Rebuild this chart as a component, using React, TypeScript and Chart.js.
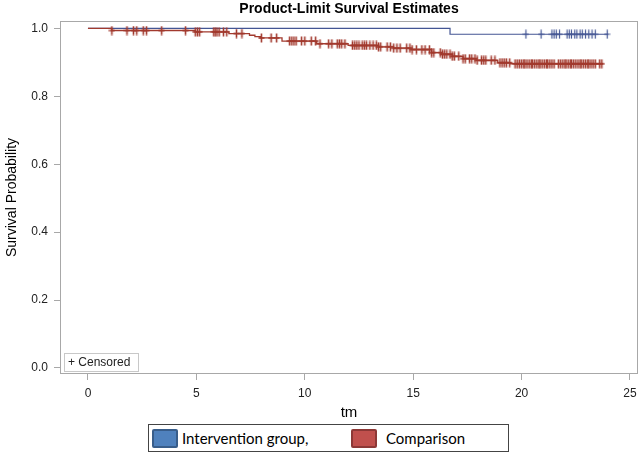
import React, { useEffect, useRef } from "react";
import { Chart, registerables } from "chart.js";
Chart.register(...registerables);

// Kaplan-Meier step points (time, survival after event)
const interventionTimes = [0, 16.7, 24.0];
const interventionSurvival = [1.0, 0.983, 0.983];
const interventionCensored = [
  20.2, 20.9, 21.4, 21.5, 21.6, 21.75, 22.1, 22.2, 22.3, 22.45, 22.55, 22.7, 22.8, 22.95,
  23.1, 23.25, 23.4, 23.95,
];

const comparisonTimes = [
  0, 1.1, 4.95, 6.5, 7.45, 7.7, 7.95, 8.95, 10.55, 12.0, 13.4, 14.1, 14.9, 15.85, 16.3, 16.8,
  17.3, 17.9, 18.9, 19.5, 23.75,
];
const comparisonSurvival = [
  1.0, 0.994, 0.99, 0.985, 0.98, 0.976, 0.972, 0.963, 0.955, 0.95, 0.946, 0.942, 0.938, 0.929,
  0.924, 0.918, 0.911, 0.906, 0.899, 0.896, 0.896,
];
const comparisonCensored = [
  1.1, 1.8, 2.1, 2.25, 2.55, 2.7, 3.4, 4.5, 4.95, 5.05, 5.15, 5.8, 5.87, 5.95, 6.05, 6.25, 6.4,
  6.85, 7.1, 8.0, 8.45, 8.7, 9.3, 9.4, 9.5, 9.6, 9.85, 10.0, 10.3, 10.5, 10.7, 11.1, 11.25,
  11.5, 11.6, 11.7, 11.85, 12.2, 12.3, 12.4, 12.5, 12.65, 12.75, 12.85, 13.0, 13.15, 13.3,
  13.4, 13.5, 13.8, 13.95, 14.1, 14.25, 14.4, 14.7, 14.85, 14.95, 15.15, 15.4, 15.55, 15.75,
  15.85, 15.95, 16.25, 16.35, 16.45, 16.55, 16.7, 16.8, 16.9, 17.1, 17.3, 17.4, 17.6, 17.7,
  17.85, 17.95, 18.15, 18.25, 18.35, 18.6, 18.77, 19.0, 19.1, 19.2, 19.3, 19.45, 19.7, 19.8,
  19.9, 20.0, 20.1, 20.15, 20.25, 20.35, 20.45, 20.5, 20.6, 20.7, 20.8, 20.85, 20.95, 21.05,
  21.15, 21.2, 21.3, 21.4, 21.5, 21.7, 21.8, 21.9, 22.0, 22.05, 22.15, 22.25, 22.3, 22.4,
  22.5, 22.6, 22.7, 22.75, 22.85, 22.95, 23.05, 23.1, 23.2, 23.3, 23.4, 23.6, 23.7,
];

const xTicks = [0, 5, 10, 15, 20, 25];
const yTicks = [0, 0.2, 0.4, 0.6, 0.8, 1.0];

const BLUE = "#445694";
const RED = "#A23A2E";
const FONT = "'Liberation Sans', Arial, sans-serif";

function survivalAt(times: number[], surv: number[], t: number) {
  let s = surv[0];
  for (let i = 0; i < times.length; i++) if (times[i] <= t) s = surv[i];
  return s;
}

function plusMarker(color: string, w: number) {
  const c = document.createElement("canvas");
  c.width = 7;
  c.height = 10;
  const g = c.getContext("2d")!;
  g.strokeStyle = color;
  g.lineWidth = w;
  g.beginPath();
  g.moveTo(3.5, 0.5);
  g.lineTo(3.5, 9.5);
  g.moveTo(0.5, 5);
  g.lineTo(6.5, 5);
  g.stroke();
  return c;
}

const decorPlugin = {
  id: "decor",
  afterDraw(chart: any) {
    const { ctx, chartArea } = chart;
    const { left, right, top, bottom } = chartArea;
    ctx.save();
    ctx.strokeStyle = "#A8A8A8";
    ctx.lineWidth = 1;
    ctx.strokeRect(left + 0.5, top + 0.5, right - left - 1, bottom - top - 1);
    ctx.fillStyle = "#000";
    ctx.font = `bold 14px ${FONT}`;
    ctx.textAlign = "center";
    ctx.textBaseline = "middle";
    ctx.fillText("Product-Limit Survival Estimates", (left + right) / 2, 9);
    const bx = left + 4, by = bottom - 21, bw = 74, bh = 18;
    ctx.fillStyle = "#fff";
    ctx.fillRect(bx, by, bw, bh);
    ctx.strokeStyle = "#C8C8C8";
    ctx.strokeRect(bx + 0.5, by + 0.5, bw, bh);
    ctx.fillStyle = "#222";
    ctx.font = `12px ${FONT}`;
    ctx.textAlign = "left";
    ctx.fillText("+ Censored", bx + 4, by + bh / 2 + 1);
    ctx.restore();
  },
};

export default function App() {
  const ref = useRef<HTMLCanvasElement>(null);
  useEffect(() => {
    if (!ref.current) return;
    const blueLine = interventionTimes.map((t, i) => ({ x: t, y: interventionSurvival[i] }));
    const redLine = comparisonTimes.map((t, i) => ({ x: t, y: comparisonSurvival[i] }));
    const blueCens = interventionCensored.map((t) => ({
      x: t,
      y: survivalAt(interventionTimes, interventionSurvival, t),
    }));
    const redCens = comparisonCensored.map((t) => ({
      x: t,
      y: survivalAt(comparisonTimes, comparisonSurvival, t),
    }));
    const chart = new Chart(ref.current, {
      type: "line",
      data: {
        datasets: [
          { data: blueLine, borderColor: BLUE, borderWidth: 1.2, stepped: true, pointRadius: 0, order: 3 },
          { data: redLine, borderColor: RED, borderWidth: 1.3, stepped: true, pointRadius: 0, order: 2 },
          { data: blueCens, showLine: false, pointStyle: plusMarker(BLUE, 1.2) as any, pointRadius: 5, order: 1 },
          { data: redCens, showLine: false, pointStyle: plusMarker(RED, 1.6) as any, pointRadius: 5, order: 0 },
        ],
      },
      options: {
        animation: false,
        responsive: false,
        layout: { autoPadding: false, padding: { top: 21, right: 2, bottom: 32, left: 0 } },
        plugins: { legend: { display: false }, tooltip: { enabled: false }, title: { display: false } },
        scales: {
          x: {
            type: "linear",
            min: -1.29,
            max: 25.37,
            afterBuildTicks: (s: any) => {
              s.ticks = xTicks.map((v) => ({ value: v }));
            },
            afterFit: (s: any) => {
              s.height = 48;
              s.paddingLeft = 0;
              s.paddingRight = 0;
            },
            grid: { drawOnChartArea: false, tickLength: 6, color: "#A8A8A8" },
            border: { display: false },
            ticks: { color: "#222", font: { family: FONT, size: 12 }, padding: 6, autoSkip: false, maxRotation: 0 },
            title: {
              display: true,
              text: "tm",
              color: "#000",
              font: { family: FONT, size: 15 },
              padding: { top: 0, bottom: 0 },
            },
          },
          y: {
            type: "linear",
            min: -0.018,
            max: 1.022,
            afterBuildTicks: (s: any) => {
              s.ticks = yTicks.map((v) => ({ value: v }));
            },
            afterFit: (s: any) => {
              s.width = 60;
              s.paddingTop = 0;
              s.paddingBottom = 0;
            },
            grid: { drawOnChartArea: false, tickLength: 6, color: "#A8A8A8" },
            border: { display: false },
            ticks: {
              color: "#222",
              font: { family: FONT, size: 12 },
              padding: 6,
              callback: (v: any) => Number(v).toFixed(1),
            },
            title: {
              display: true,
              text: "Survival Probability",
              color: "#000",
              font: { family: FONT, size: 14 },
              padding: { top: 4, bottom: 0 },
            },
          },
        },
      },
      plugins: [decorPlugin],
    });
    return () => chart.destroy();
  }, []);

  const legendText: React.CSSProperties = {
    fontFamily: "Lato, 'Open Sans', sans-serif",
    fontSize: 15,
    color: "#000",
    position: "absolute",
    top: 3,
    lineHeight: "20px",
    whiteSpace: "nowrap",
  };
  const swatch = (fill: string, border: string, left: number): React.CSSProperties => ({
    position: "absolute",
    left,
    top: 4,
    width: 22,
    height: 15,
    background: fill,
    border: `2px solid ${border}`,
    borderRadius: 2,
  });

  return (
    <div style={{ position: "fixed", left: 0, top: 0, width: 640, height: 454, background: "#fff" }}>
      <canvas ref={ref} width={640} height={454} style={{ display: "block" }} />
      <div
        style={{
          position: "absolute",
          left: 148,
          top: 424,
          width: 359,
          height: 26,
          border: "1px solid #444",
          background: "#fff",
        }}
      >
        <div style={swatch("#4F81BD", "#385D8A", 3)} />
        <div style={{ ...legendText, left: 33 }}>Intervention group,</div>
        <div style={swatch("#C0504D", "#8C3836", 202)} />
        <div style={{ ...legendText, left: 237 }}>Comparison</div>
      </div>
    </div>
  );
}
